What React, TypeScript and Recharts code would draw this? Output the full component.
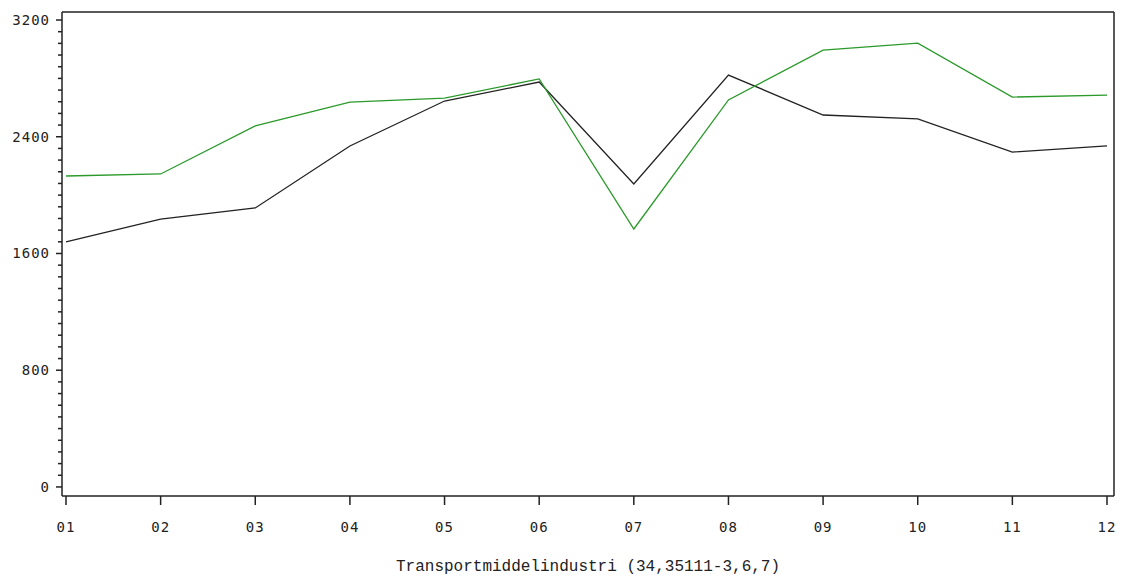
import { LineChart, Line, XAxis, YAxis } from "recharts";

const months = ["01", "02", "03", "04", "05", "06", "07", "08", "09", "10", "11", "12"];
const blackSeries = [1679, 1836, 1912, 2337, 2645, 2775, 2076, 2823, 2549, 2522, 2295, 2337];
const greenSeries = [2131, 2145, 2474, 2638, 2665, 2796, 1768, 2652, 2994, 3042, 2672, 2686];
const majorTicks = [0, 800, 1600, 2400, 3200];
const minorStep = 80;
const yTicks = Array.from({ length: 3200 / minorStep + 1 }, (_, i) => i * minorStep);
const yDomain = [-62, 3255];

const data = months.map((m, i) => ({ month: m, black: blackSeries[i], green: greenSeries[i] }));

const tickFont = { fontFamily: "'DejaVu Sans Mono', monospace", fontSize: 14, letterSpacing: 1 };
const frame = { stroke: "#222", strokeWidth: 1.5 };

const YTick = ({ x, y, payload }: any) => {
  const major = majorTicks.includes(payload.value);
  return (
    <g>
      <line x1={x} x2={x - (major ? 6 : 4)} y1={y} y2={y} stroke="#222" strokeWidth={1.5} />
      {major && (
        <text x={x - 12} y={y} textAnchor="end" dominantBaseline="central" fill="#222" style={tickFont}>
          {payload.value}
        </text>
      )}
    </g>
  );
};

const XTick = ({ x, y, payload }: any) => (
  <g>
    <line x1={x} x2={x} y1={y} y2={y + 9} stroke="#222" strokeWidth={1.5} />
    <text x={x} y={y + 31} textAnchor="middle" dominantBaseline="central" fill="#222" style={tickFont}>
      {payload.value}
    </text>
  </g>
);

export default function App() {
  return (
    <div style={{ position: "absolute", left: 0, top: 0, width: 1122, height: 577, background: "#fff" }}>
      <LineChart width={1122} height={577} data={data} margin={{ top: 11, right: 7, bottom: 0, left: 12 }}>
        <XAxis
          dataKey="month"
          height={81}
          padding={{ left: 4, right: 7 }}
          tickSize={0}
          tickMargin={0}
          tick={<XTick />}
          interval={0}
          axisLine={frame}
          label={{
            value: "Transportmiddelindustri (34,35111-3,6,7)",
            position: "insideBottom",
            offset: 6,
            fill: "#222",
            style: { fontFamily: "'Liberation Mono', monospace", fontSize: 16 },
          }}
        />
        <XAxis
          xAxisId="top"
          dataKey="month"
          orientation="top"
          height={1}
          padding={{ left: 4, right: 7 }}
          tick={false}
          tickLine={false}
          axisLine={frame}
        />
        <YAxis
          type="number"
          domain={yDomain}
          ticks={yTicks}
          interval={0}
          width={50}
          tickSize={0}
          tickMargin={0}
          tick={<YTick />}
          axisLine={frame}
          allowDataOverflow
        />
        <YAxis
          yAxisId="right"
          type="number"
          orientation="right"
          domain={yDomain}
          width={1}
          tick={false}
          tickLine={false}
          axisLine={frame}
          allowDataOverflow
        />
        <Line type="linear" dataKey="black" stroke="#222" strokeWidth={1.3} dot={false} isAnimationActive={false} />
        <Line
          type="linear"
          dataKey="green"
          xAxisId="top"
          yAxisId="right"
          stroke="#2a9a2a"
          strokeWidth={1.3}
          dot={false}
          isAnimationActive={false}
        />
      </LineChart>
    </div>
  );
}
